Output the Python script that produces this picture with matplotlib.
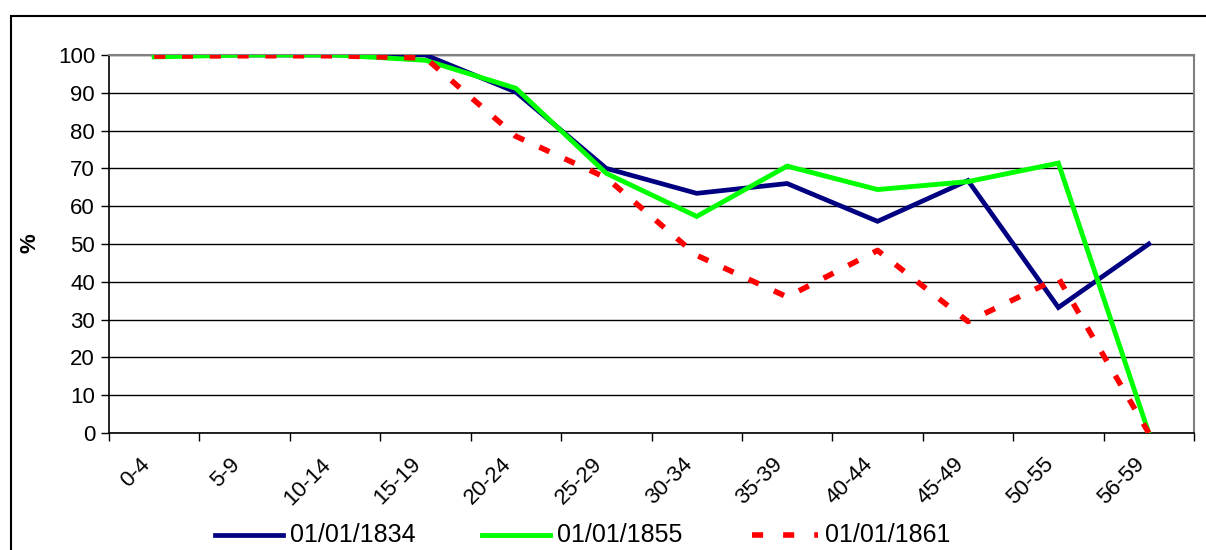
import matplotlib.pyplot as plt
import matplotlib.transforms as mtransforms
from matplotlib.lines import Line2D
from matplotlib.patches import Rectangle

plt.rcParams['font.family'] = ['Liberation Sans', 'DejaVu Sans']

# faixas etárias e percentuais por data
faixas = ['0-4', '5-9', '10-14', '15-19', '20-24', '25-29', '30-34',
          '35-39', '40-44', '45-49', '50-55', '56-59']
v1834 = [100, 100, 100, 100, 90.2, 70, 63.4, 66, 56, 66.8, 33.2, 50]
v1855 = [99.5, 100, 100, 98.6, 91.2, 68.7, 57.3, 70.6, 64.4, 66.5, 71.4, 0]
v1861 = [99.7, 99.8, 99.8, 99.2, 78.5, 67.5, 47, 36, 48.3, 29.5, 41, 0]
rotulos = ['01/01/1834', '01/01/1855', '01/01/1861']

W, H = 1206, 550
fig = plt.figure(figsize=(W / 100, H / 100), dpi=100)
ax = fig.add_axes([109/W, 1 - 433/H, (1194-109)/W, (433-55)/H])

estilos = [dict(color='#000080', lw=3.4, zorder=3, solid_joinstyle='miter'),
           dict(color='#00FF00', lw=3.5, zorder=4, solid_joinstyle='miter'),
           dict(color='#FF0000', lw=4, linestyle=(0, (2, 3)),
                dash_capstyle='butt', zorder=5)]

x = list(range(len(faixas)))
for serie, est, rot in zip([v1834, v1855, v1861], estilos, rotulos):
    ax.plot(x, serie, label=rot, **est)

ax.set_xlim(-0.5, len(faixas) - 0.5)
ax.set_ylim(0, 100)
ax.set_yticks(range(0, 101, 10))
ax.tick_params(axis='y', labelsize=16, length=6, width=1, direction='out', pad=4)

# ticks nas divisões, rótulos no centro das categorias
ax.set_xticks([i - 0.5 for i in range(len(faixas) + 1)])
ax.set_xticklabels([])
ax.set_xticks(x, minor=True)
ax.set_xticklabels(faixas, minor=True, rotation=45, ha='right',
                   rotation_mode='anchor', fontsize=16)
ax.tick_params(axis='x', which='major', length=6, width=1, direction='out')
ax.tick_params(axis='x', which='minor', length=0, pad=15)
desloc = mtransforms.ScaledTranslation(-15/100, 0, fig.dpi_scale_trans)
for lab in ax.get_xticklabels(minor=True):
    lab.set_transform(lab.get_transform() + desloc)

ax.grid(True, axis='y', color='black', lw=1)
ax.set_axisbelow(True)
for s in ['top', 'right']:
    ax.spines[s].set_color('#808080')
    ax.spines[s].set_linewidth(1.5)
for s in ['left', 'bottom']:
    ax.spines[s].set_color('black')
    ax.spines[s].set_linewidth(1.2)

fig.text(30/W, 1 - 243/H, '%', rotation=90, fontsize=16,
         fontweight='bold', ha='center', va='center')

# legenda desenhada à mão (espaçamento irregular como no original)
leg_linhas = [(215, 283), (482, 550), (752, 818)]
leg_texto = [290, 557, 825]
y_leg = 1 - 535/H
for (x0, x1), xt, est, rot in zip(leg_linhas, leg_texto, estilos, rotulos):
    e = dict(est)
    e.pop('zorder')
    if 'linestyle' in e:
        e['linestyle'] = (0, (2, 3.6))
    fig.add_artist(Line2D([x0/W, x1/W], [y_leg, y_leg],
                          transform=fig.transFigure, **e))
    fig.text(xt/W, y_leg, rot, fontsize=18, ha='left', va='center')

# moldura externa do gráfico
fig.patches.append(Rectangle((11/W, -0.1), 1.2, 1 - 16/H + 0.1,
                             transform=fig.transFigure, fill=False,
                             edgecolor='black', lw=1.5))

fig.savefig('out.png', dpi=100)
